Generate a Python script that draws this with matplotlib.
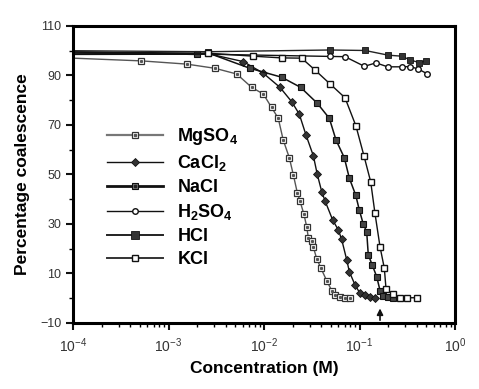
import matplotlib
matplotlib.use("Agg")
import matplotlib.pyplot as plt
from matplotlib.ticker import FixedLocator, LogLocator, NullFormatter
from matplotlib.legend_handler import HandlerTuple

plt.rcParams['font.family'] = ['Liberation Sans', 'DejaVu Sans']
plt.rcParams['mathtext.fontset'] = 'custom'
plt.rcParams['mathtext.rm'] = 'Liberation Sans'
plt.rcParams['mathtext.bf'] = 'Liberation Sans:bold'

# ---- data ----
mgso4_x = [1e-4, 5.2e-4, 1.55e-3, 3.07e-3, 5.18e-3, 7.43e-3, 9.84e-3, 0.0120, 0.0141, 0.0159,
           0.0184, 0.0203, 0.0223, 0.0238, 0.0262, 0.0280, 0.0291, 0.0315, 0.0329, 0.0356,
           0.0392, 0.0453, 0.0512, 0.0553, 0.0625, 0.0705, 0.0794]
mgso4_y = [97.0, 95.9, 94.6, 92.9, 90.6, 85.2, 82.5, 77.1, 72.7, 63.9,
           56.8, 49.8, 42.7, 39.3, 33.9, 28.9, 24.5, 23.3, 20.6, 16.0,
           12.4, 7.1, 3.1, 1.3, 0.6, 0.2, 0.2]

cacl2_x = [1e-4, 2.6e-3, 6.08e-3, 9.84e-3, 0.0147, 0.0195, 0.0234, 0.0275, 0.0329, 0.0361,
           0.0402, 0.0436, 0.0524, 0.0600, 0.0650, 0.0735, 0.0783, 0.0897, 0.1012, 0.1143, 0.129, 0.145]
cacl2_y = [99.0, 98.8, 95.6, 90.9, 85.2, 79.4, 74.4, 66.0, 57.5, 50.1,
           43.1, 39.3, 31.6, 27.6, 23.8, 15.5, 10.7, 5.4, 2.0, 1.3, 0.6, 0.2]

nacl_x = [1e-4, 2.0e-3, 2.6e-3, 7.13e-3, 0.0153, 0.0242, 0.0361, 0.0483, 0.0568, 0.0693,
          0.0783, 0.0912, 0.0995, 0.1096, 0.1189, 0.1236, 0.1361, 0.1514, 0.1641, 0.1766, 0.200, 0.226]
nacl_y = [99.5, 98.5, 99.1, 92.9, 89.3, 85.2, 78.8, 72.7, 63.9, 56.8,
          48.5, 41.7, 35.7, 29.9, 26.9, 17.5, 13.4, 8.7, 3.1, 1.0, 0.4, 0.2]

h2so4_x = [1e-4, 2.6e-3, 0.049, 0.0705, 0.1125, 0.149, 0.197, 0.2767, 0.339, 0.413, 0.505]
h2so4_y = [98.5, 98.6, 97.7, 97.6, 93.7, 95.1, 93.5, 93.5, 93.6, 92.6, 90.8]

hcl_x = [1e-4, 2.6e-3, 0.049, 0.1143, 0.2004, 0.2767, 0.338, 0.4227, 0.4966]
hcl_y = [100.0, 99.6, 100.3, 100.1, 98.2, 97.8, 96.3, 95.2, 95.9]

kcl_x = [1e-4, 2.6e-3, 7.73e-3, 0.0153, 0.0248, 0.0342, 0.0491, 0.0705, 0.0918, 0.1114,
         0.1309, 0.1452, 0.164, 0.182, 0.1897, 0.2222, 0.2655, 0.3162, 0.4036]
kcl_y = [99.5, 99.0, 97.8, 97.1, 97.0, 92.2, 86.6, 81.0, 69.6, 57.5,
         47.1, 34.3, 20.8, 12.1, 3.6, 1.7, 0.2, 0.2, 0.2]

labels = [r'MgSO$_\mathbf{4}$', r'CaCl$_\mathbf{2}$', 'NaCl', r'H$_\mathbf{2}$SO$_\mathbf{4}$', 'HCl', 'KCl']
arrow_x = 0.164

fig = plt.figure(figsize=(4.79, 3.89), dpi=100)
ax = fig.add_axes([0.1524, 0.1697, 0.7975, 0.7635])

handles = []
# MgSO4: small grey square with dot
ax.plot(mgso4_x, mgso4_y, '-', color='#555555', lw=1.0, marker='s', ms=3.8,
        mfc='white', mec='#333333', mew=0.9, markevery=list(range(1, len(mgso4_x))))
ax.plot(mgso4_x[1:], mgso4_y[1:], ' ', marker='s', ms=1.2, mfc='#555555', mec='#555555')
handles.append((ax.plot([], [], '-', color='#777777', lw=1.6, marker='s', ms=4.5,
                        mfc='white', mec='#333333', mew=0.9)[0],
                ax.plot([], [], ' ', marker='s', ms=1.5, mfc='#555555', mec='#555555')[0]))
# CaCl2
ax.plot(cacl2_x, cacl2_y, '-', color='#111111', lw=1.0, marker='D', ms=3.6,
        mfc='#333333', mec='#111111', mew=0.6, markevery=list(range(2, len(cacl2_x))))
handles.append(ax.plot([], [], '-', color='#111111', lw=1.0, marker='D', ms=3.6,
                       mfc='#333333', mec='#111111', mew=0.6)[0])
# NaCl
ax.plot(nacl_x, nacl_y, '-', color='#111111', lw=1.1, marker='s', ms=4.6,
        mfc='#444444', mec='#111111', mew=0.8, markevery=list(range(1, len(nacl_x))))
handles.append((ax.plot([], [], '-', color='#111111', lw=2.0, marker='s', ms=4.6,
                        mfc='#777777', mec='#111111', mew=0.8)[0],
                ax.plot([], [], ' ', marker='s', ms=1.5, mfc='#222222', mec='#222222')[0]))
# H2SO4
ax.plot(h2so4_x, h2so4_y, '-', color='#111111', lw=1.0, marker='o', ms=4.0,
        mfc='white', mec='#111111', mew=1.0, markevery=list(range(2, len(h2so4_x))))
handles.append(ax.plot([], [], '-', color='#111111', lw=1.0, marker='o', ms=4.0,
                       mfc='white', mec='#111111', mew=1.0)[0])
# HCl
ax.plot(hcl_x, hcl_y, '-', color='#222222', lw=1.0, marker='s', ms=5,
        mfc='#333333', mec='#111111', mew=0.6, markevery=list(range(1, len(hcl_x))))
handles.append(ax.plot([], [], '-', color='#222222', lw=1.4, marker='s', ms=5.5,
                       mfc='#333333', mec='#111111', mew=0.6)[0])
# KCl
ax.plot(kcl_x, kcl_y, '-', color='#111111', lw=1.0, marker='s', ms=5,
        mfc='white', mec='#111111', mew=1.0, markevery=list(range(1, len(kcl_x))))
handles.append(ax.plot([], [], '-', color='#333333', lw=1.4, marker='s', ms=5,
                       mfc='white', mec='#111111', mew=1.0)[0])

ax.annotate('', xy=(arrow_x, -3.0), xytext=(arrow_x, -10),
            arrowprops=dict(arrowstyle='-|>', color='#111111', lw=1.2, mutation_scale=9))

ax.set_xscale('log')
ax.set_xlim(1e-4, 1.0)
ax.set_ylim(-10, 110)
ax.yaxis.set_major_locator(FixedLocator([-10, 10, 30, 50, 70, 90, 110]))
ax.yaxis.set_minor_locator(FixedLocator([0, 20, 40, 60, 80, 100]))
ax.xaxis.set_major_locator(LogLocator(base=10, numticks=10))
ax.xaxis.set_minor_locator(LogLocator(base=10, subs=range(2, 10), numticks=20))
ax.xaxis.set_minor_formatter(NullFormatter())

for s in ax.spines.values():
    s.set_linewidth(2.2)
ax.tick_params(axis='both', which='major', direction='out', length=5, width=1.5,
               labelsize=10, colors='#111111', labelcolor='#333333')
ax.tick_params(axis='both', which='minor', direction='out', length=3, width=1.0)
ax.tick_params(axis='y', labelsize=9)
ax.tick_params(axis='x', pad=5)

ax.set_xlabel('Concentration (M)', fontsize=12.5, fontweight='bold', labelpad=4)
ax.set_ylabel('Percentage coalescence', fontsize=12.5, fontweight='bold', labelpad=7)

leg = ax.legend(handles, labels, loc='upper left', bbox_to_anchor=(0.089, 0.663),
                frameon=False, handlelength=3.1, handletextpad=0.8,
                labelspacing=0.33, borderpad=0, borderaxespad=0,
                prop={'weight': 'bold', 'size': 13},
                handler_map={tuple: HandlerTuple(ndivide=1, pad=0)})

fig.savefig('out.png', dpi=100)
